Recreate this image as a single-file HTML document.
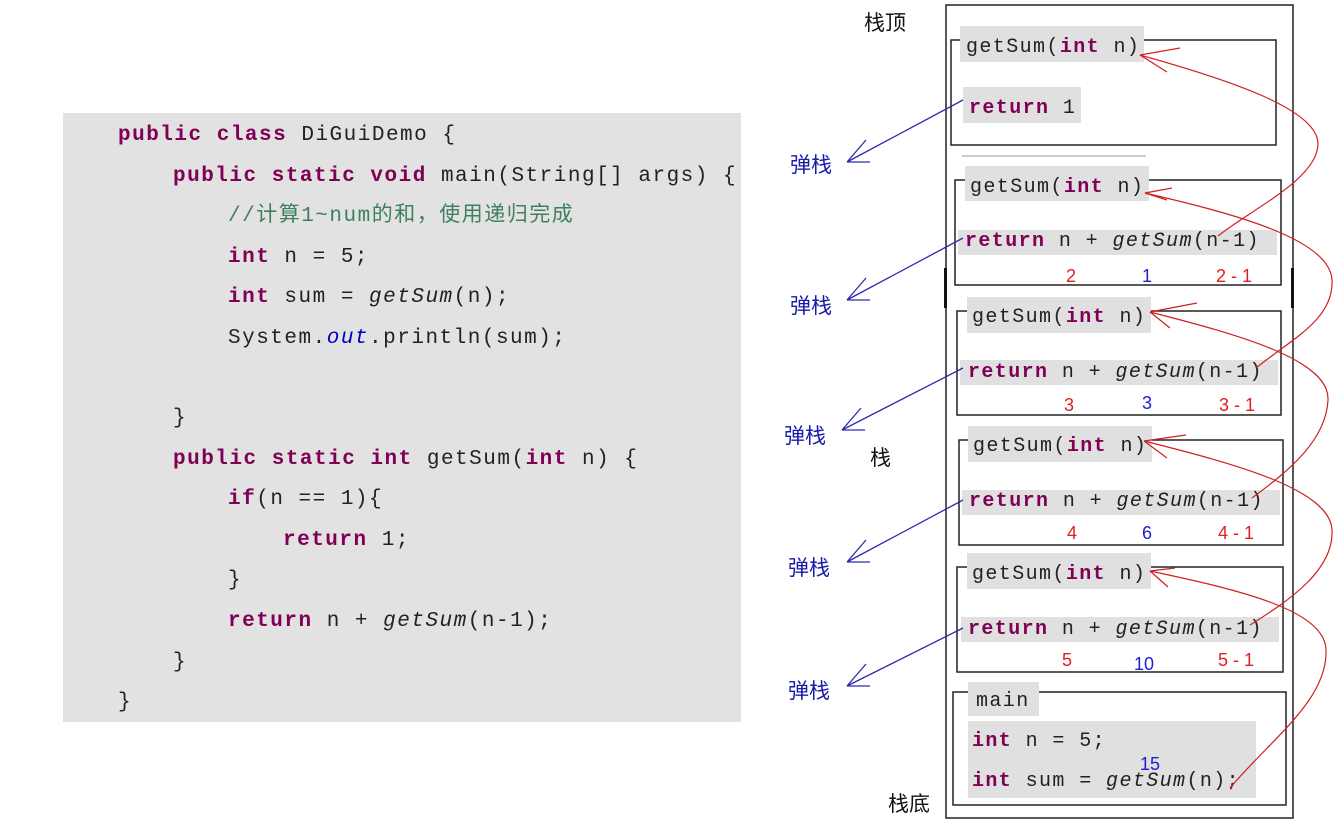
<!DOCTYPE html>
<html><head><meta charset="utf-8"><style>
html,body{margin:0;padding:0;background:#fff;width:1336px;height:840px;overflow:hidden}
svg{display:block}
.c{font-family:"Liberation Mono","Noto Sans CJK SC",monospace;font-size:21px;letter-spacing:1.5px;fill:#222}
.r{font-family:"Liberation Mono",monospace;font-size:20px;letter-spacing:1.4px;fill:#222}
.k{fill:#7f0055;font-weight:bold}
.i{font-style:italic}
.cm{fill:#3f7f5f;font-family:"Liberation Mono","Noto Sans CJK SC",monospace}
.cj{font-family:"Liberation Sans","Noto Sans CJK SC",sans-serif;font-size:21px;fill:#111}
.bl{font-family:"Liberation Sans","Noto Sans CJK SC",sans-serif;font-size:21px;fill:#1a1aa8}
.nr{font-family:"Liberation Sans",sans-serif;font-size:18px;fill:#e02020}
.nb{font-family:"Liberation Sans",sans-serif;font-size:18px;fill:#2020d0}
</style></head><body>
<svg width="1336" height="840" xmlns="http://www.w3.org/2000/svg" xml:space="preserve">
<rect x="63" y="113" width="678" height="609" fill="#e2e2e2"/>
<g class="c">
<text x="118" y="140"><tspan class="k">public class</tspan> DiGuiDemo {</text>
<text x="173" y="181"><tspan class="k">public static void</tspan> main(String[] args) {</text>
<text x="228" y="221" class="cm">//计算1~num的和，使用递归完成</text>
<text x="228" y="262"><tspan class="k">int</tspan> n = 5;</text>
<text x="228" y="302"><tspan class="k">int</tspan> sum = <tspan class="i">getSum</tspan>(n);</text>
<text x="228" y="343">System.<tspan class="i" fill="#0000c0">out</tspan>.println(sum);</text>
<text x="173" y="423">}</text>
<text x="173" y="464"><tspan class="k">public static int</tspan> getSum(<tspan class="k">int</tspan> n) {</text>
<text x="228" y="504"><tspan class="k">if</tspan>(n == 1){</text>
<text x="283" y="545"><tspan class="k">return</tspan> 1;</text>
<text x="228" y="585">}</text>
<text x="228" y="626"><tspan class="k">return</tspan> n + <tspan class="i">getSum</tspan>(n-1);</text>
<text x="173" y="667">}</text>
<text x="118" y="707">}</text>
</g>

<!-- stack outer -->
<rect x="946" y="5" width="347" height="813" fill="none" stroke="#222" stroke-width="1.5"/>
<rect x="944" y="268" width="3" height="40" fill="#111"/>
<rect x="1291" y="268" width="3" height="40" fill="#111"/>
<text class="cj" x="864" y="30">栈顶</text>
<text class="cj" x="870" y="465">栈</text>
<text class="cj" x="888" y="811">栈底</text>

<!-- frame 1 -->
<rect x="951" y="40" width="325" height="105" fill="none" stroke="#222" stroke-width="1.5"/>
<rect x="960" y="26" width="184" height="36" fill="#e0e0e0"/>
<rect x="963" y="87" width="118" height="36" fill="#e0e0e0"/>
<text class="r" x="966" y="52">getSum(<tspan class="k">int</tspan> n)</text>
<text class="r" x="969" y="113"><tspan class="k">return</tspan> 1</text>
<line x1="962" y1="156" x2="1146" y2="156" stroke="#ccc" stroke-width="2"/>

<!-- frame 2 -->
<rect x="955" y="180" width="326" height="105" fill="none" stroke="#222" stroke-width="1.5"/>
<rect x="965" y="166" width="184" height="35" fill="#e0e0e0"/>
<rect x="958" y="230" width="319" height="25" fill="#e0e0e0"/>
<text class="r" x="970" y="192">getSum(<tspan class="k">int</tspan> n)</text>
<text class="r" x="965" y="246"><tspan class="k">return</tspan> n + <tspan class="i">getSum</tspan>(n-1)</text>
<text class="nr" x="1066" y="282">2</text><text class="nb" x="1142" y="282">1</text><text class="nr" x="1216" y="282">2 - 1</text>

<!-- frame 3 -->
<rect x="957" y="311" width="324" height="104" fill="none" stroke="#222" stroke-width="1.5"/>
<rect x="967" y="297" width="184" height="36" fill="#e0e0e0"/>
<rect x="960" y="360" width="318" height="25" fill="#e0e0e0"/>
<text class="r" x="972" y="322">getSum(<tspan class="k">int</tspan> n)</text>
<text class="r" x="968" y="377"><tspan class="k">return</tspan> n + <tspan class="i">getSum</tspan>(n-1)</text>
<text class="nr" x="1064" y="411">3</text><text class="nb" x="1142" y="409">3</text><text class="nr" x="1219" y="411">3 - 1</text>

<!-- frame 4 -->
<rect x="959" y="440" width="324" height="105" fill="none" stroke="#222" stroke-width="1.5"/>
<rect x="968" y="426" width="184" height="36" fill="#e0e0e0"/>
<rect x="962" y="490" width="318" height="25" fill="#e0e0e0"/>
<text class="r" x="973" y="451">getSum(<tspan class="k">int</tspan> n)</text>
<text class="r" x="969" y="506"><tspan class="k">return</tspan> n + <tspan class="i">getSum</tspan>(n-1)</text>
<text class="nr" x="1067" y="539">4</text><text class="nb" x="1142" y="539">6</text><text class="nr" x="1218" y="539">4 - 1</text>

<!-- frame 5 -->
<rect x="957" y="567" width="326" height="105" fill="none" stroke="#222" stroke-width="1.5"/>
<rect x="967" y="553" width="184" height="36" fill="#e0e0e0"/>
<rect x="961" y="617" width="318" height="25" fill="#e0e0e0"/>
<text class="r" x="972" y="579">getSum(<tspan class="k">int</tspan> n)</text>
<text class="r" x="968" y="634"><tspan class="k">return</tspan> n + <tspan class="i">getSum</tspan>(n-1)</text>
<text class="nr" x="1062" y="666">5</text><text class="nb" x="1134" y="670">10</text><text class="nr" x="1218" y="666">5 - 1</text>

<!-- main -->
<rect x="953" y="692" width="333" height="113" fill="none" stroke="#222" stroke-width="1.5"/>
<rect x="968" y="682" width="71" height="34" fill="#e0e0e0"/>
<rect x="968" y="721" width="288" height="77" fill="#e0e0e0"/>
<text class="r" x="976" y="706">main</text>
<text class="r" x="972" y="746"><tspan class="k">int</tspan> n = 5;</text>
<text class="r" x="972" y="786"><tspan class="k">int</tspan> sum = <tspan class="i">getSum</tspan>(n);</text>
<text class="nb" x="1140" y="770">15</text>

<!-- blue pop arrows -->
<g stroke="#2a2ab0" stroke-width="1.3" fill="none">
<path d="M963,100 L847,162 M847,162 L866,140 M847,162 L870,162"/>
<path d="M963,238 L847,300 M847,300 L866,278 M847,300 L870,300"/>
<path d="M963,368 L842,430 M842,430 L861,408 M842,430 L865,430"/>
<path d="M963,500 L847,562 M847,562 L866,540 M847,562 L870,562"/>
<path d="M963,628 L847,686 M847,686 L866,664 M847,686 L870,686"/>
</g>
<text class="bl" x="790" y="172">弹栈</text>
<text class="bl" x="790" y="313">弹栈</text>
<text class="bl" x="784" y="443">弹栈</text>
<text class="bl" x="788" y="575">弹栈</text>
<text class="bl" x="788" y="698">弹栈</text>

<!-- red call curves -->
<g stroke="#d02020" stroke-width="1.2" fill="none">
<path d="M1140,55 C1230,80 1320,110 1318,145 C1316,180 1250,210 1218,236"/>
<path d="M1140,55 L1180,48 M1140,55 L1167,72"/>
<path d="M1145,193 C1240,215 1330,240 1332,280 C1334,320 1290,340 1256,368"/>
<path d="M1145,193 L1172,188 M1145,193 L1167,200"/>
<path d="M1150,312 C1240,335 1330,360 1328,400 C1326,440 1290,470 1252,498"/>
<path d="M1150,312 L1197,303 M1150,312 L1170,328"/>
<path d="M1144,441 C1240,465 1330,490 1332,530 C1334,570 1290,600 1250,625"/>
<path d="M1144,441 L1186,435 M1144,441 L1167,458"/>
<path d="M1150,571 C1240,590 1325,610 1326,650 C1328,700 1270,740 1230,788"/>
<path d="M1150,571 L1175,568 M1150,571 L1168,587"/>
</g>
</svg>
</body></html>
